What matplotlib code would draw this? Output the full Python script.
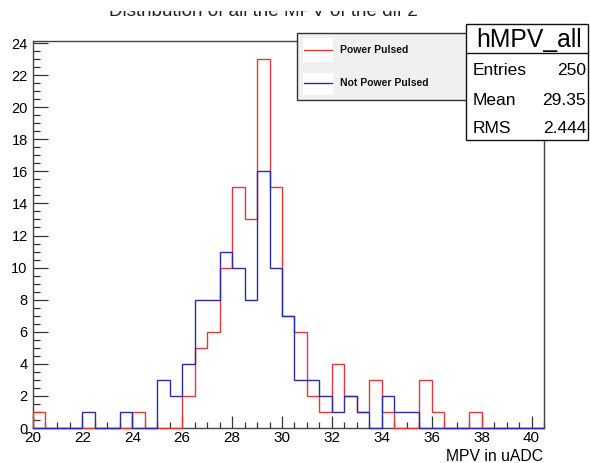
import matplotlib
matplotlib.use("Agg")
import matplotlib.pyplot as plt
from matplotlib.patches import Rectangle
from matplotlib.lines import Line2D
from matplotlib.ticker import MultipleLocator
import numpy as np

plt.rcParams['font.family'] = ['Liberation Sans', 'DejaVu Sans']

# ---- data ----
bin_low = 20.0
bin_width = 0.5
power_pulsed = [1, 0, 0, 0, 0, 0, 0, 0, 1, 0,
                0, 0, 2, 5, 6, 10, 15, 13, 23, 15,
                7, 6, 2, 1, 4, 2, 1, 3, 1, 0,
                0, 3, 1, 0, 0, 1, 0, 0, 0, 0, 0]
not_power_pulsed = [0, 0, 0, 0, 1, 0, 0, 1, 0, 0,
                    3, 2, 4, 8, 8, 11, 10, 8, 16, 10,
                    7, 3, 3, 2, 1, 2, 1, 0, 2, 1,
                    1, 0, 0, 0, 0, 0, 0, 0, 0, 0, 0]
legend_labels = ["Power Pulsed", "Not Power Pulsed"]
title = "Distribution of all the MPV of the dif 2"
xlabel = "MPV in uADC"
stats_name = "hMPV_all"
stats_rows = [("Entries", "250"), ("Mean", "29.35"), ("RMS", "2.444")]

W, H = 590, 463
fig = plt.figure(figsize=(W / 100, H / 100), dpi=100)


def fx(px):
    return px / W


def fy(py):
    return 1 - py / H


ax_l, ax_r, ax_t, ax_b = 32.5, 544.0, 40.6, 428.0
ax = fig.add_axes([fx(ax_l), fy(ax_b), fx(ax_r) - fx(ax_l), fy(ax_t) - fy(ax_b)])

edges = bin_low + bin_width * np.arange(len(power_pulsed) + 1)
red = '#e23a3a'
blue = '#2c2ca6'
ax.stairs(power_pulsed, edges, color=red, lw=1.0, zorder=3, clip_on=False)
ax.stairs(not_power_pulsed, edges, color=blue, lw=1.0, zorder=4, clip_on=False)

ax.set_xlim(edges[0], edges[-1])
ax.set_ylim(0, max(power_pulsed) * 1.05)
ax.xaxis.set_major_locator(MultipleLocator(2))
ax.xaxis.set_minor_locator(MultipleLocator(0.5))
ax.yaxis.set_major_locator(MultipleLocator(2))
ax.yaxis.set_minor_locator(MultipleLocator(0.5))
ax.tick_params(axis='x', which='major', direction='in', length=8.5, width=0.9,
               color='#333333', labelsize=11, pad=2.5, top=False)
ax.tick_params(axis='x', which='minor', direction='in', length=4.3, width=0.9,
               color='#333333', top=False)
ax.tick_params(axis='y', which='major', direction='in', length=11, width=0.9,
               color='#333333', labelsize=10.5, pad=3.5, right=False)
ax.tick_params(axis='y', which='minor', direction='in', length=5.3, width=0.9,
               color='#333333', right=False)
for s in ax.spines.values():
    s.set_color('#444444')
    s.set_linewidth(1.0)

# title (its upper part is cut off in the reference)
fig.text(fx(263), fy(16.5), title, ha='center', va='baseline', fontsize=13.6,
         color='#222222', zorder=1)
fig.patches.append(Rectangle((0, fy(10.5)), 1, 1 - fy(10.5),
                             transform=fig.transFigure, facecolor='white',
                             edgecolor='none', zorder=2))
# x label
fig.text(fx(543), fy(461), xlabel, ha='right', va='baseline', fontsize=11.3)

# legend box
leg_l, leg_t, leg_r, leg_b = 297, 33.3, 485, 100
fig.patches.append(Rectangle((fx(leg_l), fy(leg_b)), fx(leg_r) - fx(leg_l),
                             fy(leg_t) - fy(leg_b), transform=fig.transFigure,
                             facecolor='#f0f0f0', edgecolor='#333333', lw=1.0,
                             zorder=5))
for (ytop, ybot, yline), lab, col in zip([(38, 62, 50), (73, 95, 83)],
                                        legend_labels, [red, blue]):
    fig.patches.append(Rectangle((fx(303), fy(ybot)), fx(333) - fx(303),
                                 fy(ytop) - fy(ybot), transform=fig.transFigure,
                                 facecolor='white', edgecolor='none', zorder=6))
    fig.lines.append(Line2D([fx(304), fx(332)], [fy(yline), fy(yline)],
                            transform=fig.transFigure, color=col, lw=1.0,
                            zorder=7))
    fig.text(fx(340), fy(yline), lab, ha='left', va='center', fontsize=7.5,
             fontweight='bold', color='#111111', zorder=7)

# stats box
st_l, st_t, st_r, st_b = 466, 24, 588, 140
fig.patches.append(Rectangle((fx(st_l), fy(st_b)), fx(st_r) - fx(st_l),
                             fy(st_t) - fy(st_b), transform=fig.transFigure,
                             facecolor='white', edgecolor='#111111', lw=1.0,
                             zorder=8))
fig.lines.append(Line2D([fx(st_l), fx(st_r)], [fy(53.3), fy(53.3)],
                        transform=fig.transFigure, color='#111111', lw=1.0,
                        zorder=9))
fig.text(fx(529), fy(46.7), stats_name, ha='center', va='baseline',
         fontsize=17.8, zorder=9)
for (name, val), base in zip(stats_rows, [75, 105, 133]):
    fig.text(fx(473), fy(base), name, ha='left', va='baseline', fontsize=12.5,
             zorder=9)
    fig.text(fx(586), fy(base), val, ha='right', va='baseline', fontsize=12.5,
             zorder=9)

fig.savefig("out.png", dpi=100)
